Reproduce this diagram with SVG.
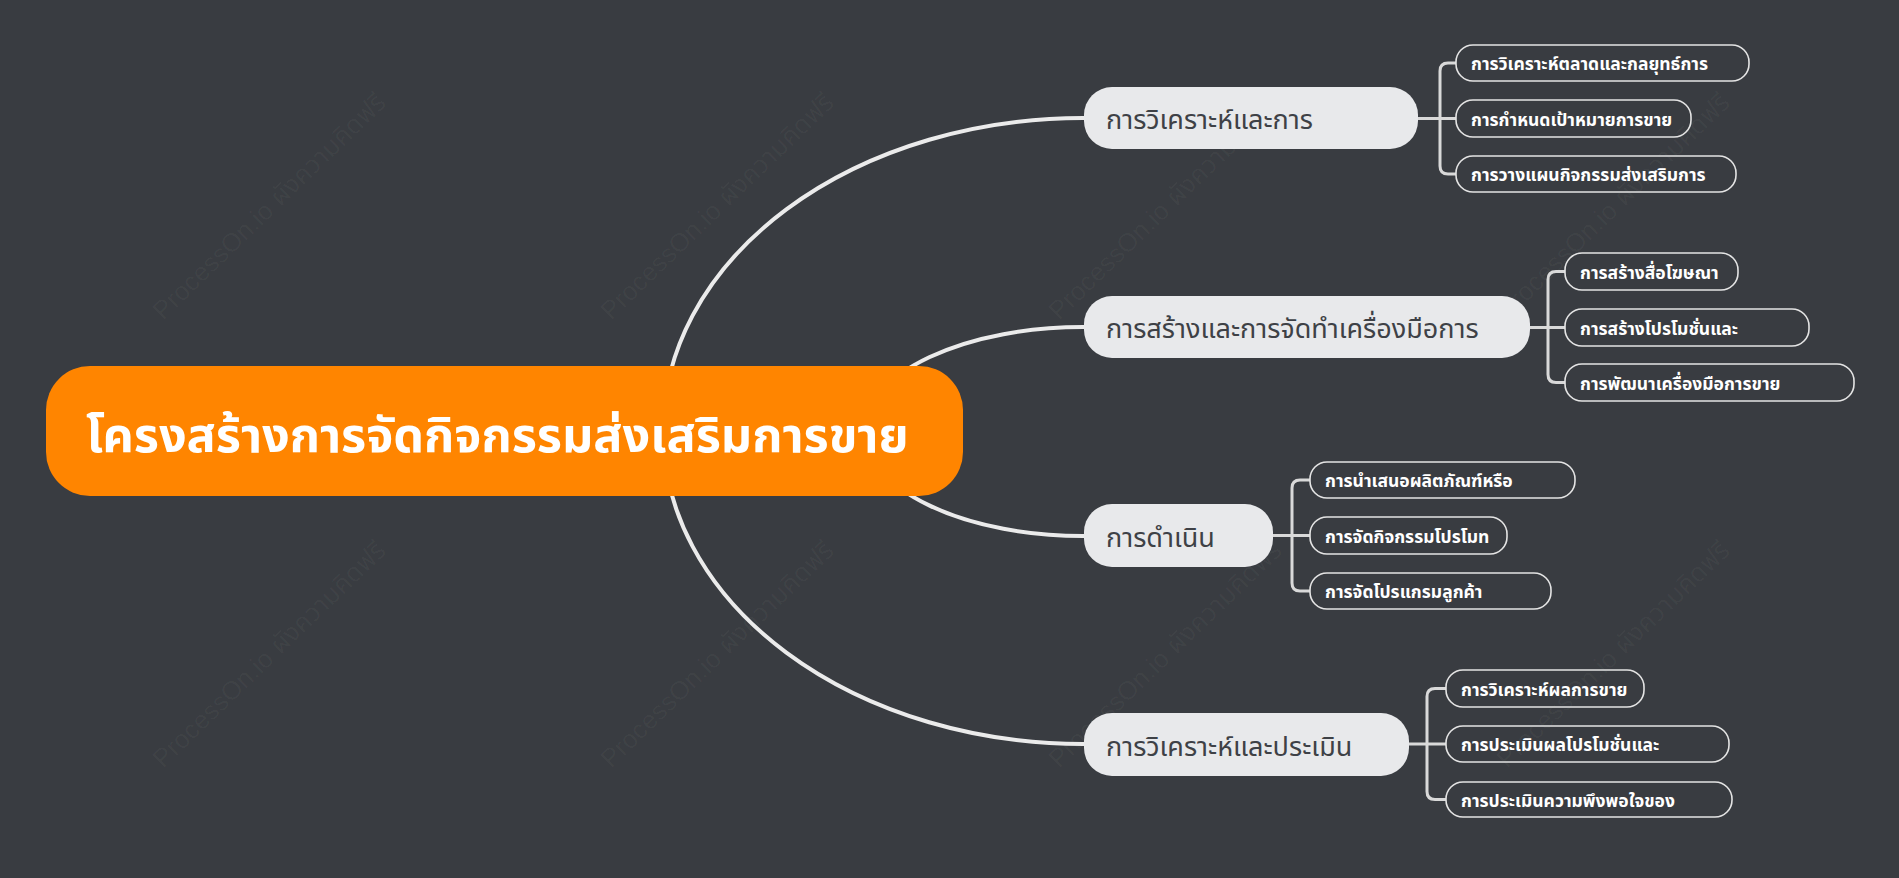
<svg xmlns="http://www.w3.org/2000/svg" width="1899" height="878" viewBox="0 0 1899 878">
<style>
.bg{fill:#393c41}
.wm{font-family:"Liberation Sans","Noto Sans Thai","Noto Sans",sans-serif;font-size:26px;fill:#ffffff;fill-opacity:0.035}
.curve{fill:none;stroke:#ebebeb;stroke-width:4;stroke-linecap:round}
.sub{fill:none;stroke:#d9d9d9;stroke-width:3;stroke-linejoin:round}
.root rect{fill:#ff8500}
.root text{font-family:"Noto Sans Thai","Noto Sans Thai UI","Noto Sans","DejaVu Sans",sans-serif;font-size:48.5px;font-weight:bold;fill:#ffffff}
.branch rect{fill:#e8e9eb}
.branch text{font-family:"Noto Sans Thai","Noto Sans Thai UI","Noto Sans","DejaVu Sans",sans-serif;font-size:27px;fill:#3e4146}
.leaf rect{fill:none;stroke:#e4e4e4;stroke-width:1.6}
.leaf text{font-family:"Noto Sans Thai","Noto Sans Thai UI","Noto Sans","DejaVu Sans",sans-serif;font-size:17.5px;font-weight:bold;fill:#ffffff}
</style>
<rect class="bg" x="0" y="0" width="1899" height="878"/>
<g id="watermarks">
<text class="wm" transform="translate(163,321) rotate(-44)">ProcessOn.io ผังความคิดฟรี</text>
<text class="wm" transform="translate(611,321) rotate(-44)">ProcessOn.io ผังความคิดฟรี</text>
<text class="wm" transform="translate(1059,321) rotate(-44)">ProcessOn.io ผังความคิดฟรี</text>
<text class="wm" transform="translate(1507,321) rotate(-44)">ProcessOn.io ผังความคิดฟรี</text>
<text class="wm" transform="translate(163,769) rotate(-44)">ProcessOn.io ผังความคิดฟรี</text>
<text class="wm" transform="translate(611,769) rotate(-44)">ProcessOn.io ผังความคิดฟรี</text>
<text class="wm" transform="translate(1059,769) rotate(-44)">ProcessOn.io ผังความคิดฟรี</text>
<text class="wm" transform="translate(1507,769) rotate(-44)">ProcessOn.io ผังความคิดฟรี</text>
</g>
<g id="connectors">
<path class="curve" d="M663 431 A420 313 0 0 1 1084 118"/>
<path class="curve" d="M865 431 A218 104 0 0 1 1084 327"/>
<path class="curve" d="M865 431 A218 105 0 0 0 1084 536"/>
<path class="curve" d="M663 431 A420 313 0 0 0 1084 744"/>
<path class="sub" d="M1418 118.5 H1456 M1456 63 H1448 Q1440 63 1440 71 V166 Q1440 174 1448 174 H1456"/>
<path class="sub" d="M1530 327.5 H1565 M1565 271.5 H1556 Q1548 271.5 1548 279.5 V374.5 Q1548 382.5 1556 382.5 H1565"/>
<path class="sub" d="M1273 535.5 H1310 M1310 480 H1300 Q1292 480 1292 488 V583 Q1292 591 1300 591 H1310"/>
<path class="sub" d="M1409 744 H1446 M1446 688.5 H1435 Q1427 688.5 1427 696.5 V791.5 Q1427 799.5 1435 799.5 H1446"/>
</g>
<g id="root" class="root">
<rect x="46" y="366" width="917" height="130" rx="44"/>
<text x="86" y="452">โครงสร้างการจัดกิจกรรมส่งเสริมการขาย</text>
</g>
<g id="b1" class="branch">
<rect x="1084" y="87" width="334" height="62" rx="28"/>
<text x="1106" y="129">การวิเคราะห์และการ</text>
</g>
<g id="b2" class="branch">
<rect x="1084" y="296" width="446" height="62" rx="28"/>
<text x="1106" y="338">การสร้างและการจัดทำเครื่องมือการ</text>
</g>
<g id="b3" class="branch">
<rect x="1084" y="504" width="189" height="63" rx="28"/>
<text x="1106" y="547">การดำเนิน</text>
</g>
<g id="b4" class="branch">
<rect x="1084" y="713" width="325" height="63" rx="28"/>
<text x="1106" y="756">การวิเคราะห์และประเมิน</text>
</g>
<g id="l1a" class="leaf"><rect x="1456" y="45" width="293" height="36" rx="17"/><text x="1471" y="70">การวิเคราะห์ตลาดและกลยุทธ์การ</text></g>
<g id="l1b" class="leaf"><rect x="1456" y="100" width="235" height="37" rx="17"/><text x="1471" y="126">การกำหนดเป้าหมายการขาย</text></g>
<g id="l1c" class="leaf"><rect x="1456" y="156" width="280" height="36" rx="17"/><text x="1471" y="181">การวางแผนกิจกรรมส่งเสริมการ</text></g>
<g id="l2a" class="leaf"><rect x="1565" y="253" width="173" height="37" rx="17"/><text x="1580" y="279">การสร้างสื่อโฆษณา</text></g>
<g id="l2b" class="leaf"><rect x="1565" y="309" width="244" height="37" rx="17"/><text x="1580" y="335">การสร้างโปรโมชั่นและ</text></g>
<g id="l2c" class="leaf"><rect x="1565" y="364" width="289" height="37" rx="17"/><text x="1580" y="390">การพัฒนาเครื่องมือการขาย</text></g>
<g id="l3a" class="leaf"><rect x="1310" y="462" width="265" height="36" rx="17"/><text x="1325" y="487">การนำเสนอผลิตภัณฑ์หรือ</text></g>
<g id="l3b" class="leaf"><rect x="1310" y="517" width="197" height="37" rx="17"/><text x="1325" y="543">การจัดกิจกรรมโปรโมท</text></g>
<g id="l3c" class="leaf"><rect x="1310" y="573" width="241" height="36" rx="17"/><text x="1325" y="598">การจัดโปรแกรมลูกค้า</text></g>
<g id="l4a" class="leaf"><rect x="1446" y="670" width="198" height="37" rx="17"/><text x="1461" y="696">การวิเคราะห์ผลการขาย</text></g>
<g id="l4b" class="leaf"><rect x="1446" y="726" width="283" height="36" rx="17"/><text x="1461" y="751">การประเมินผลโปรโมชั่นและ</text></g>
<g id="l4c" class="leaf"><rect x="1446" y="782" width="286" height="35" rx="17"/><text x="1461" y="807">การประเมินความพึงพอใจของ</text></g>
</svg>
